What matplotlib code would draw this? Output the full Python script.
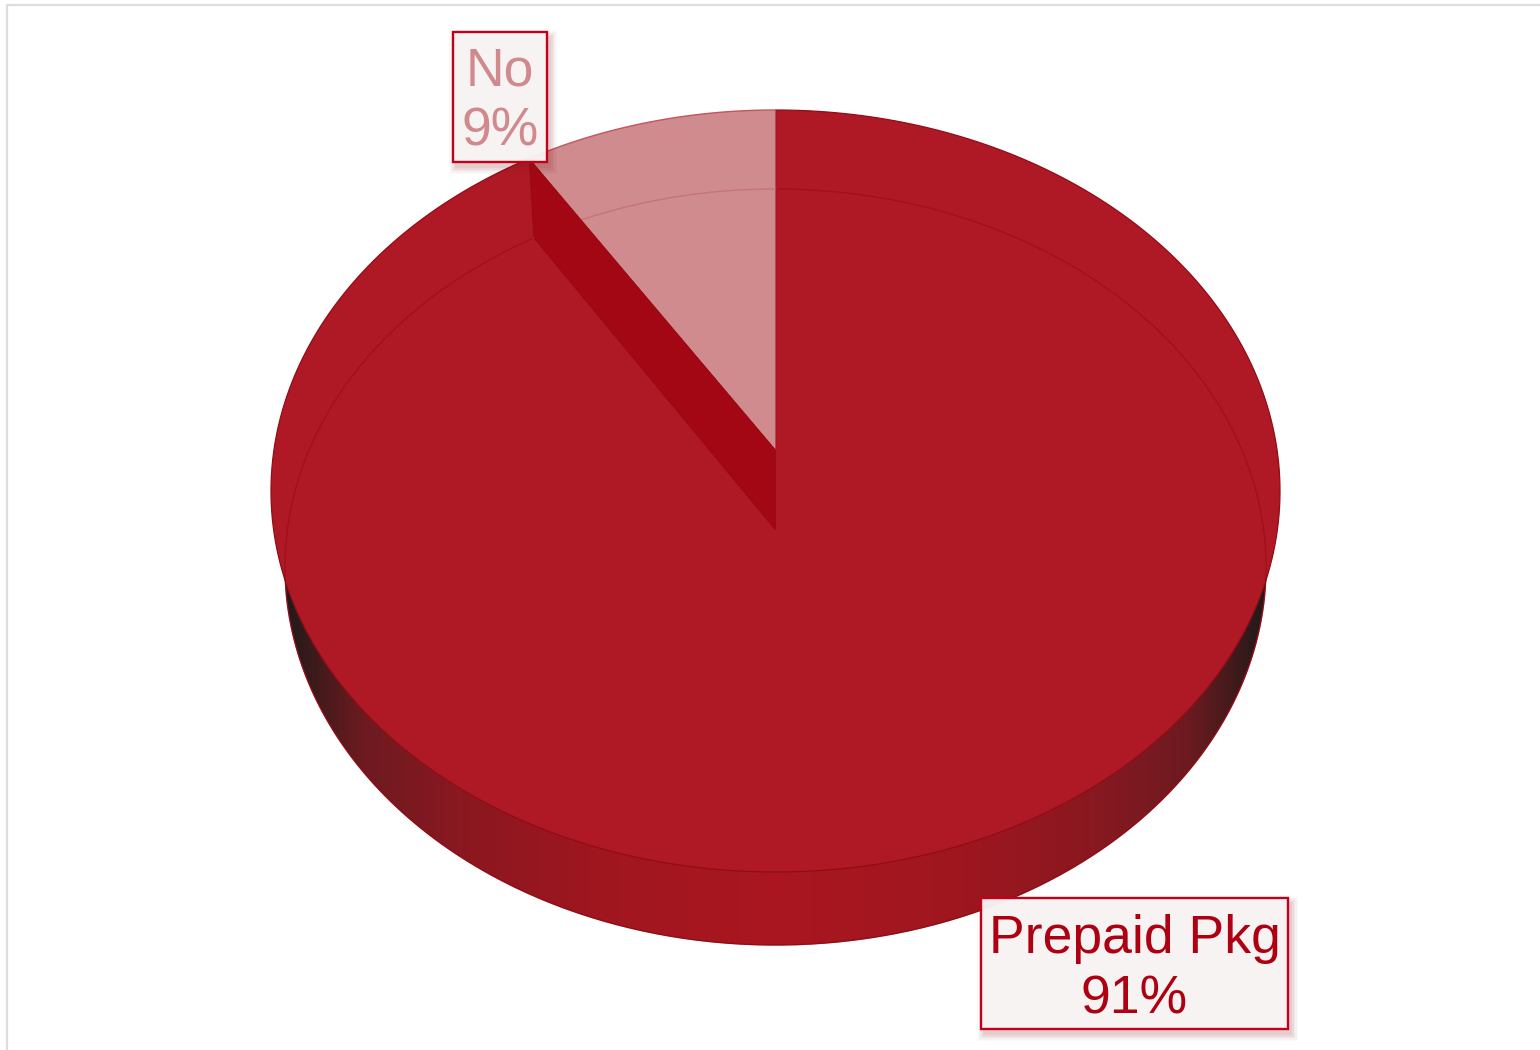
import numpy as np
import matplotlib
matplotlib.use('Agg')
import matplotlib.pyplot as plt
from matplotlib.patches import Polygon, Rectangle
from matplotlib.colors import LinearSegmentedColormap

plt.rcParams['font.family'] = ['Liberation Sans', 'DejaVu Sans']

categories = ['Prepaid Pkg', 'No']
values = [91, 9]

# pie geometry in pixels (perspective: apex sits above the ellipse centre)
CX = 775.5
TOP = dict(cy=491, rx=504.5, ry=381, apex=450)
BOT = dict(cy=567, rx=490.5, ry=378, apex=530)


def rim(e, theta):
    # circle -> ellipse, projective so the circle centre lands on the apex
    c = (e['cy'] - e['apex']) / e['ry']
    X, Y = np.sin(theta), np.cos(theta)
    d = 1 + c * Y
    u = X * np.sqrt(1 - c ** 2) / d
    v = (Y + c) / d
    return np.column_stack([CX + e['rx'] * u, e['cy'] - e['ry'] * v])


def wedge(e, a0, a1):
    pts = rim(e, np.linspace(a0, a1, 300))
    return np.vstack([[CX, e['apex']], pts])


fig = plt.figure(figsize=(15.4, 10.5), dpi=100, facecolor='white')
ax = fig.add_axes([0, 0, 1, 1])
ax.set_xlim(0, 1540); ax.set_ylim(1050, 0); ax.axis('off')

# outer frame
ax.plot([7, 7, 1540], [1050, 5, 5], color='#dedede', lw=1.6, zorder=1)

angles = np.cumsum([0] + values) / sum(values) * 2 * np.pi
full = np.linspace(0, 2 * np.pi, 720)

# side wall with horizontal shading
side_cmap = LinearSegmentedColormap.from_list('side', [
    (0.00, '#1f1a1a'), (0.04, '#4a1a1c'), (0.08, '#6e1a20'), (0.18, '#8a1820'),
    (0.32, '#a0161f'), (0.50, '#aa1620'), (0.68, '#a0161f'), (0.82, '#8a1820'),
    (0.92, '#6e1a20'), (0.96, '#4a1a1c'), (1.00, '#1f1a1a')])
side_clip = Polygon(rim(BOT, full), closed=True, transform=ax.transData, fc='none', ec='none')
ax.add_patch(side_clip)
im = ax.imshow(np.linspace(0, 1, 256)[None, :], cmap=side_cmap, aspect='auto',
               extent=[CX - BOT['rx'], CX + BOT['rx'], 1050, 0], zorder=2)
im.set_clip_path(side_clip)
ax.set_xlim(0, 1540); ax.set_ylim(1050, 0)
ax.plot(*rim(BOT, full).T, color='#96101a', lw=0.9, zorder=2.5)

# top face
ax.add_patch(Polygon(wedge(TOP, angles[0], angles[1]), closed=True, fc='#ae1925',
                     ec='#920c16', lw=0.9, zorder=3))
ax.add_patch(Polygon(wedge(TOP, angles[1], angles[2]), closed=True, fc='#cf8b8d',
                     ec='none', zorder=3))
ax.plot(*rim(TOP, np.linspace(angles[1], angles[2], 80)).T, color='#c4555c', lw=1.0, zorder=3.2)

# far rim seen through the top face
ax.plot(*rim(BOT, np.linspace(angles[0], angles[1], 720)).T, color='#8f0712', lw=1.0, alpha=0.45, zorder=3.5)
ax.plot(*rim(BOT, np.linspace(angles[1], angles[2], 80)).T, color='#c4757a', lw=1.0, zorder=3.5)

# cut wall of the small slice
p_top = rim(TOP, angles[1:2])[0]
p_bot = rim(BOT, angles[1:2])[0]
ax.add_patch(Polygon([p_top, p_bot, [CX, BOT['apex']], [CX, TOP['apex']]], closed=True,
                     fc='#a20713', ec='#980a14', lw=0.6, zorder=4))

# labels
boxes = [(981, 898, 307, 131), (453, 32, 94, 130)]
text_colors = ['#ad0012', '#d08a8e']
line_y = [(953, 1014), (85, 146)]
for name, val, (x, y, w, h), col, (y1, y2) in zip(categories, values, boxes, text_colors, line_y):
    # soft drop shadow
    for s, a in zip([14, 11, 8, 5, 2], [0.025, 0.035, 0.045, 0.06, 0.07]):
        ax.add_patch(Rectangle((x + 3 - s / 2, y + 5 - s / 2), w + s, h + s, fc='#8a1a24', ec='none',
                               alpha=a, zorder=5))
    ax.add_patch(Rectangle((x, y), w, h, fc='#f8f5f5', ec='none', alpha=0.96, zorder=6))
    ax.add_patch(Rectangle((x, y), w, h, fc='none', ec='#c40018', lw=1.7, zorder=6.5))
    cx = x + w / 2
    ax.text(cx, y1, name, color=col, fontsize=38.5, ha='center', va='baseline', zorder=7)
    ax.text(cx, y2, f'{val}%', color=col, fontsize=38.5, ha='center', va='baseline', zorder=7)

fig.savefig('out.png', dpi=100)
plt.close()
